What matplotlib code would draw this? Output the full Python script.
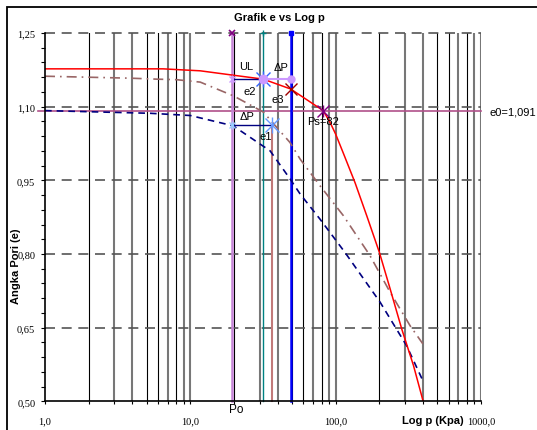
import numpy as np
import matplotlib.pyplot as plt
from matplotlib.patches import Rectangle
from matplotlib.ticker import FixedLocator, FixedFormatter

# Data (p in kPa, e = void ratio)
p_red = [1, 6.5, 8.7, 11.7, 19.8, 31.8, 49, 82, 91.5, 100, 113, 136, 164, 200, 237, 285, 343, 400]
e_red = [1.177, 1.177, 1.175, 1.173, 1.164, 1.156, 1.136, 1.092, 1.068, 1.044, 1.005, 0.945,
         0.877, 0.803, 0.729, 0.647, 0.573, 0.50]

p_brown = [1, 3.85, 5.9, 8, 11.7, 19.8, 31.8, 48.5, 57, 78, 113, 172, 237, 325, 398]
e_brown = [1.162, 1.158, 1.156, 1.155, 1.150, 1.122, 1.089, 1.027, 0.993, 0.939, 0.878,
           0.797, 0.722, 0.654, 0.617]

p_navy = [1, 5.3, 10, 19.7, 35.4, 48.5, 57, 78, 116, 202, 308, 398]
e_navy = [1.092, 1.0865, 1.082, 1.061, 1.010, 0.953, 0.922, 0.871, 0.803, 0.702, 0.613, 0.542]

Po = 19.3
p_e2 = 31.8
p_e1 = 36.3
p_e3 = 49
Ps = 82
e0 = 1.091
e_ul = 1.156
e_lo = 1.063
e_e3 = 1.136

xtick_vals = [1, 10, 100, 1000]
xtick_labels = ["1,0", "10,0", "100,0", "1000,0"]
ytick_vals = [0.50, 0.65, 0.80, 0.95, 1.10, 1.25]
ytick_labels = ["0,50", "0,65", "0,80", "0,95", "1,10", "1,25"]

W, H = 537, 431
fig = plt.figure(figsize=(W / 100, H / 100), dpi=100)
ax = fig.add_axes([45 / W, 1 - 402.3 / H, (481 - 45) / W, (402.3 - 34) / H])
ax.set_xscale("log")
ax.set_xlim(1, 1000)
ax.set_ylim(0.50, 1.25)

# outer chart frame
fig.patches.append(Rectangle((7 / W, -0.2), 1.2, 1.2 - 8 / H, transform=fig.transFigure,
                             fill=False, edgecolor="black", linewidth=1.3))

# vertical grid (black / grey like the excel render)
pattern = ["k", "g", "g", "k", "k", "g", "k", "g", "g"]
for dec in [1, 10, 100]:
    for i, m in enumerate(range(2, 11)):
        xv = m * dec
        if pattern[i] == "k":
            ax.axvline(xv, color="black", lw=0.8, zorder=1)
        else:
            ax.axvline(xv, color="#777777", lw=1.5, zorder=1)

# horizontal dashed grid
for yv in ytick_vals[1:]:
    ax.axhline(yv, color="#555555", lw=1.2, ls=(0, (6, 4)), zorder=1, clip_on=False)

# e0 line
ax.plot([0.9, 1000], [e0, e0], color="#b0508a", lw=1.2, zorder=2, clip_on=False)
ax.text(1000 * 1.14, e0, "e0=1,091", fontsize=8, family="Liberation Sans", va="center", ha="left")

# vertical construction lines
ax.plot([Po, Po], [0.50, 1.25], color="#c584d6", lw=1.8, zorder=3, clip_on=False)
ax.plot([p_e2, p_e2], [0.50, 1.25], color="#008080", lw=1.0, zorder=3, clip_on=False)
ax.plot([p_e1, p_e1], [0.50, e_lo], color="#c07878", lw=1.5, zorder=3, clip_on=False)
ax.plot([p_e3, p_e3], [0.50, 1.25], color="#0000ff", lw=1.8, zorder=3, clip_on=False)
ax.plot([Po], [1.25], marker="x", color="#800080", ms=4, mew=1.2, clip_on=False, zorder=5)
ax.plot([p_e2], [1.25], marker="+", color="#008080", ms=5, mew=1.0, clip_on=False, zorder=5)
ax.plot([p_e3], [1.25], marker="s", color="#0000ff", ms=2.5, clip_on=False, zorder=5)

# curves
ax.plot(p_navy, e_navy, color="#000080", lw=1.2, ls=(0, (4, 3)), zorder=4)
ax.plot(p_brown, e_brown, color="#996666", lw=1.2, ls=(0, (6, 3, 1, 3)), zorder=4)
ax.plot(p_red, e_red, color="#ff0000", lw=1.1, zorder=4)

# UL / delta P construction
ax.plot([Po, p_e2], [e_ul, e_ul], color="#000080", lw=1.0, zorder=5)
ax.plot([p_e2, p_e3], [e_ul, e_ul], color="#cc99ff", lw=1.5, zorder=5)
ax.plot([Po, p_e1], [e_lo, e_lo], color="#000080", lw=1.0, zorder=5)

for px_, py_, c, s in [(Po, e_ul, "#cc99ff", 5), (Po, e_lo, "#99ccff", 5),
                       (p_e2, e_ul, "#3366ff", 10), (p_e1, e_lo, "#6699ff", 10),
                       (Ps, e0, "#800080", 8)]:
    ax.plot([px_], [py_], marker="x", color=c, ms=s, mew=1.0, zorder=6, ls="none")
    ax.plot([px_], [py_], marker="|", color=c, ms=s * 1.1, mew=1.0, zorder=6, ls="none")
ax.plot([p_e2], [e_ul], marker="o", color="#cc99ff", ms=6, zorder=7, ls="none")
ax.plot([p_e3], [e_ul], marker="o", color="#cc99ff", ms=5, zorder=7, ls="none")
ax.plot([p_e3], [e_e3], marker="x", color="#a00000", ms=9, mew=1.0, zorder=7, ls="none")

lab = dict(fontsize=8, family="Liberation Sans", ha="center", va="center", zorder=8)
ax.text(24.2, 1.183, "UL", **lab)
ax.text(42.1, 1.181, "\u0394P", **lab)
ax.text(25.8, 1.132, "e2", **lab)
ax.text(40.1, 1.116, "e3", **lab)
ax.text(24.5, 1.081, "\u0394P", **lab)
ax.text(33.2, 1.040, "e1", **lab)
ax.text(Ps, 1.071, "Ps=82", **lab)
ax.text(Po * 1.07, 0.4845, "Po", fontsize=8.5, family="Liberation Sans", ha="center", va="center")

# axes styling
for s in ["top", "right"]:
    ax.spines[s].set_visible(False)
for s in ["left", "bottom"]:
    ax.spines[s].set_linewidth(1.2)
    ax.spines[s].set_zorder(9)

ax.xaxis.set_major_locator(FixedLocator(xtick_vals))
ax.xaxis.set_major_formatter(FixedFormatter(xtick_labels))
minor_x = [m * d for d in [1, 10, 100] for m in range(2, 10)]
ax.xaxis.set_minor_locator(FixedLocator(minor_x))
ax.xaxis.set_minor_formatter(FixedFormatter([""] * len(minor_x)))
ax.tick_params(axis="x", which="both", direction="out", length=2.5, width=0.8, pad=8)
ax.yaxis.set_major_locator(FixedLocator(ytick_vals))
ax.yaxis.set_major_formatter(FixedFormatter(ytick_labels))
ax.yaxis.set_minor_locator(FixedLocator(list(np.arange(0.53, 1.25, 0.03))))
ax.tick_params(axis="y", which="both", direction="out", length=3, width=0.8, pad=4)
for t in ax.get_xticklabels() + ax.get_yticklabels():
    t.set_family("Liberation Serif")
    t.set_fontsize(7.5)

fig.text(279 / W, 1 - 18 / H, "Grafik e vs Log p", fontsize=8, fontweight="bold",
         family="Liberation Sans", ha="center", va="center")
fig.text(16 / W, 1 - 266 / H, "Angka Pori (e)", fontsize=8, fontweight="bold",
         family="Liberation Sans", ha="center", va="center", rotation=90)
fig.text(432.5 / W, 1 - 421 / H, "Log p (Kpa)", fontsize=8, fontweight="bold",
         family="Liberation Sans", ha="center", va="center")

fig.savefig("out.png", dpi=100)
